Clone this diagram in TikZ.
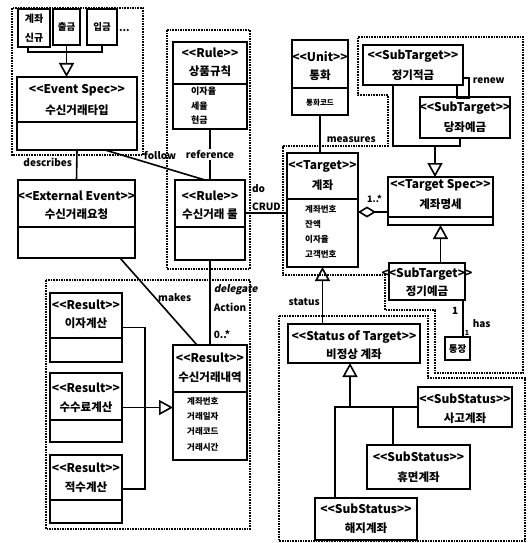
\documentclass[tikz,border=0pt]{standalone}
\usepackage{fontspec}
\usetikzlibrary{arrows.meta,positioning,calc}
\newfontfamily\krfont{Noto Sans CJK KR}
\newfontfamily\krslant{Noto Sans CJK KR}[FakeSlant=0.2]

\begin{document}
\begin{tikzpicture}[x=1pt,y=-1pt,
    every node/.style={font=\krfont\bfseries},
    umlbox/.style={draw,line width=1.8pt,fill=white,inner sep=0pt,outer sep=0pt,anchor=north west},
    stype/.style={font=\krfont\bfseries\fontsize{12}{14}\selectfont,inner sep=0pt},
    cname/.style={font=\krfont\bfseries\fontsize{11.5}{14}\selectfont,inner sep=0pt},
    attrs/.style={font=\krfont\bfseries\fontsize{8.5}{15}\selectfont,align=left,anchor=north west,inner sep=0pt},
    lbl/.style={font=\krfont\bfseries\fontsize{10}{12}\selectfont,inner sep=0pt},
    link/.style={line width=1.6pt},
    gen/.style={link,-{Triangle[open,length=14pt,width=15pt]}},
    grp/.style={densely dotted,line width=1.6pt}
  ]
  \useasboundingbox (0,0) rectangle (528,543);

  % dotted groups
  \draw[grp] (12,8) rectangle (143,155);
  \draw[grp] (167,30) rectangle (250,269);
  \draw[grp] (46,280) rectangle (250,529);
  \draw[grp] (283,146) -- (388,146) -- (388,95) -- (358,95) -- (358,37) -- (523,37) -- (523,373)
    -- (435,373) -- (435,310) -- (385,310) -- (385,275) -- (283,275) -- cycle;
  \draw[grp] (279,316) -- (428,316) -- (428,378) -- (525,378) -- (525,541) -- (279,541) -- cycle;

  % event types
  \node[umlbox,minimum width=32pt,minimum height=38pt] (newacct) at (18,9) {};
  \node[font=\krfont\bfseries\fontsize{10}{19}\selectfont,align=center,inner sep=0pt] at (newacct.center) {계좌\\신규};
  \node[umlbox,minimum width=27pt,minimum height=36pt] (withdraw) at (53,9) {};
  \node[font=\krfont\bfseries\fontsize{9.5}{12}\selectfont,inner sep=0pt] at (withdraw.center) {출금};
  \node[umlbox,minimum width=30pt,minimum height=36pt] (deposit) at (87,9) {};
  \node[font=\krfont\bfseries\fontsize{9.5}{12}\selectfont,inner sep=0pt] at (deposit.center) {입금};
  \node[lbl,anchor=west] (more) at (119,31) {...};

  \node[umlbox,minimum width=120pt,minimum height=73pt] (evspec) at (17,77) {};
  \draw[link] ([yshift=-45pt]evspec.north west) -- ([yshift=-45pt]evspec.north east);
  \node[stype] at ([yshift=-13pt]evspec.north) {<<Event Spec>>};
  \node[cname] at ([yshift=-33pt]evspec.north) {수신거래타입};

  \coordinate (evjoin) at (66.5,52);
  \draw[link] ([xshift=10pt]newacct.south west) |- (evjoin);
  \draw[link] (deposit.south) |- (evjoin);
  \draw[gen] (withdraw.south) -- (withdraw.south |- evspec.north);

  % external event
  \node[umlbox,minimum width=117pt,minimum height=78pt] (extev) at (18,180) {};
  \draw[link] ([yshift=-47pt]extev.north west) -- ([yshift=-47pt]extev.north east);
  \node[stype] at ([yshift=-16pt]extev.north) {<<External Event>>};
  \node[cname] at ([yshift=-34pt]extev.north) {수신거래요청};

  % rules
  \node[umlbox,minimum width=74pt,minimum height=87pt] (ruleprod) at (173,42) {};
  \draw[link] ([yshift=-42pt]ruleprod.north west) -- ([yshift=-42pt]ruleprod.north east);
  \node[stype] at ([yshift=-11pt]ruleprod.north) {<<Rule>>};
  \node[cname] at ([yshift=-29pt]ruleprod.north) {상품규칙};
  \node[attrs,font=\krfont\bfseries\fontsize{9}{14.5}\selectfont] at (191,87) {이자율\\세율\\현금};

  \node[umlbox,minimum width=70pt,minimum height=80pt] (rulerecv) at (175,180) {};
  \draw[link] ([yshift=-47pt]rulerecv.north west) -- ([yshift=-47pt]rulerecv.north east);
  \node[stype] at ([yshift=-16pt]rulerecv.north) {<<Rule>>};
  \node[cname] at ([yshift=-34pt]rulerecv.north) {수신거래 룰};

  % results
  \node[umlbox,minimum width=74pt,minimum height=115pt] (resdetail) at (173,345) {};
  \draw[link] ([yshift=-47pt]resdetail.north west) -- ([yshift=-47pt]resdetail.north east);
  \node[stype] at ([yshift=-13pt]resdetail.north) {<<Result>>};
  \node[cname] at ([yshift=-32pt]resdetail.north) {수신거래내역};
  \node[attrs,font=\krfont\bfseries\fontsize{8.5}{15.3}\selectfont] at (187,397) {계좌번호\\거래일자\\거래코드\\거래시간};

  \node[umlbox,minimum width=72pt,minimum height=69pt] (resint) at (50,293) {};
  \draw[link] ([yshift=-45pt]resint.north west) -- ([yshift=-45pt]resint.north east);
  \node[stype] at ([yshift=-12pt]resint.north) {<<Result>>};
  \node[cname] at ([yshift=-30pt]resint.north) {이자계산};

  \node[umlbox,minimum width=72pt,minimum height=69pt] (resfee) at (50,373) {};
  \draw[link] ([yshift=-47pt]resfee.north west) -- ([yshift=-47pt]resfee.north east);
  \node[stype] at ([yshift=-15pt]resfee.north) {<<Result>>};
  \node[cname] at ([yshift=-34pt]resfee.north) {수수료계산};

  \node[umlbox,minimum width=72pt,minimum height=68pt] (resacc) at (50,455) {};
  \draw[link] ([yshift=-45pt]resacc.north west) -- ([yshift=-45pt]resacc.north east);
  \node[stype] at ([yshift=-13pt]resacc.north) {<<Result>>};
  \node[cname] at ([yshift=-32pt]resacc.north) {적수계산};

  \coordinate (resjoin) at (145,407.5);
  \draw[link] (resint.east) -| (resjoin);
  \draw[link] (resacc.east) -| (resjoin);
  \draw[gen] (resfee.east) -- (resfee.east -| resdetail.west);

  % unit and target
  \node[umlbox,minimum width=56pt,minimum height=75pt] (unit) at (292,40) {};
  \draw[link] ([yshift=-48pt]unit.north west) -- ([yshift=-48pt]unit.north east);
  \node[stype] at ([yshift=-17pt]unit.north) {<<Unit>>};
  \node[cname] at ([yshift=-35pt]unit.north) {통화};
  \node[font=\krfont\bfseries\fontsize{7.5}{9}\selectfont,inner sep=0pt] at ([yshift=12pt]unit.south) {통화코드};

  \node[umlbox,minimum width=71pt,minimum height=114pt] (target) at (287,153) {};
  \draw[link] ([yshift=-46pt]target.north west) -- ([yshift=-46pt]target.north east);
  \node[stype] at ([yshift=-13pt]target.north) {<<Target>>};
  \node[cname] at ([yshift=-32pt]target.north) {계좌};
  \node[attrs] at (305,205) {계좌번호\\잔액\\이자율\\고객번호};

  \node[umlbox,minimum width=105pt,minimum height=48pt] (spec) at (388,177) {};
  \draw[link] ([yshift=-40pt]spec.north west) -- ([yshift=-40pt]spec.north east);
  \node[stype] at ([yshift=-8pt]spec.north) {<<Target Spec>>};
  \node[cname] at ([yshift=-27pt]spec.north) {계좌명세};

  \node[umlbox,minimum width=100pt,minimum height=40pt] (subinst) at (363,45) {};
  \node[stype] at ([yshift=-11pt]subinst.north) {<<SubTarget>>};
  \node[cname] at ([yshift=-30pt]subinst.north) {정기적금};

  \node[umlbox,minimum width=90pt,minimum height=41pt] (subchk) at (420,97) {};
  \node[stype] at ([yshift=-11pt]subchk.north) {<<SubTarget>>};
  \node[cname] at ([yshift=-30pt]subchk.north) {당좌예금};

  \node[umlbox,minimum width=76pt,minimum height=37pt] (subtime) at (389,263) {};
  \node[stype] at ([yshift=-11pt]subtime.north) {<<SubTarget>>};
  \node[cname] at ([yshift=-28pt]subtime.north) {정기예금};

  \node[umlbox,minimum width=25pt,minimum height=23pt] (passbook) at (445,337) {};
  \node[font=\krfont\bfseries\fontsize{9.5}{12}\selectfont,inner sep=0pt] at (passbook.center) {통장};

  % status
  \node[umlbox,minimum width=132pt,minimum height=39pt] (status) at (288,324) {};
  \node[stype] at ([yshift=-13pt]status.north) {<<Status of Target>>};
  \node[cname] at ([yshift=-30pt]status.north) {비정상 계좌};

  \node[umlbox,minimum width=94pt,minimum height=40pt] (subacc) at (418,387) {};
  \node[stype] at ([yshift=-12pt]subacc.north) {<<SubStatus>>};
  \node[cname] at ([yshift=-31pt]subacc.north) {사고계좌};

  \node[umlbox,minimum width=103pt,minimum height=44pt] (subdorm) at (367,445) {};
  \node[stype] at ([yshift=-12pt]subdorm.north) {<<SubStatus>>};
  \node[cname] at ([yshift=-32pt]subdorm.north) {휴면계좌};

  \node[umlbox,minimum width=102pt,minimum height=42pt] (subclose) at (315,498) {};
  \node[stype] at ([yshift=-11pt]subclose.north) {<<SubStatus>>};
  \node[cname] at ([yshift=-30pt]subclose.north) {해지계좌};

  % connectors
  \draw[link] (evspec.south) -- node[lbl,pos=0.43,left=4pt]{describes} (extev.north);
  \draw[link] ([xshift=28pt]evspec.south) -- node[lbl,pos=0.55,above=6pt]{follow} ([xshift=-5pt]rulerecv.north);
  \draw[link] (ruleprod.south) -- node[lbl,fill=white,inner sep=1pt]{reference} (rulerecv.north);
  \draw[link] ([yshift=7pt]rulerecv.east) -- node[lbl,pos=0.15,anchor=south west,align=left,font=\krfont\bfseries\fontsize{10}{18}\selectfont,yshift=2pt]{do\\CRUD} ([yshift=-3pt]target.west);
  \draw[link] ([xshift=43.5pt]extev.south) -- node[lbl,pos=0.46,anchor=west,xshift=2pt]{makes} ([xshift=-13pt]resdetail.north);
  \draw[link] (rulerecv.south) -- node[lbl,pos=0.35,anchor=west,xshift=3pt,font=\krslant\bfseries\fontsize{10}{12}\selectfont]{delegate}
    node[lbl,pos=0.56,anchor=west,xshift=3pt]{Action}
    node[lbl,pos=0.88,anchor=west,xshift=3pt]{0..*} (resdetail.north);
  \draw[link] (unit.south) -- node[lbl,pos=0.65,anchor=west,xshift=6pt]{measures} (unit.south |- target.north);
  \draw[link,{Diamond[open,length=18pt,width=11pt]}-] ([yshift=-2pt]target.east) -- node[lbl,pos=0.55,above=9pt,font=\krfont\bfseries\fontsize{9}{11}\selectfont]{1..*} ([yshift=-2pt]target.east -| spec.west);

  \coordinate (specjoin) at (435,146);
  \draw[link] ([xshift=30pt]subinst.south west) |- (specjoin);
  \draw[link] ([xshift=40pt]subchk.south west) |- (specjoin);
  \draw[gen] (specjoin) -- (specjoin |- spec.north);
  \draw[link] ([yshift=-13pt]subinst.east) -- ++(6,0) node[lbl,anchor=west,xshift=3pt,yshift=-3pt]{renew}
    -- ++(0,20) -| ([xshift=-6pt]subinst.south east);

  \draw[gen] (spec.south |- subtime.north) -- (spec.south);
  \draw[link] ([xshift=5.5pt]passbook.north |- subtime.south) -- node[lbl,pos=0.3,left=4pt]{1}
    node[lbl,pos=0.65,right=9pt]{has}
    node[lbl,pos=0.88,right=1pt,font=\krfont\bfseries\fontsize{7}{8}\selectfont]{1} ([xshift=5.5pt]passbook.north);

  \draw[gen] (target.south |- status.north) -- node[lbl,pos=0.39,left=2pt]{status} (target.south);

  \coordinate (statjoin) at (350,407);
  \draw[link] (subacc.west) -- ([xshift=20pt]subclose.north west |- subacc.west) -- ([xshift=20pt]subclose.north west);
  \draw[link] ([xshift=26pt]subdorm.north west |- subacc.west) -- ([xshift=26pt]subdorm.north west);
  \draw[gen] (statjoin) -- (statjoin |- status.south);
\end{tikzpicture}
\end{document}
